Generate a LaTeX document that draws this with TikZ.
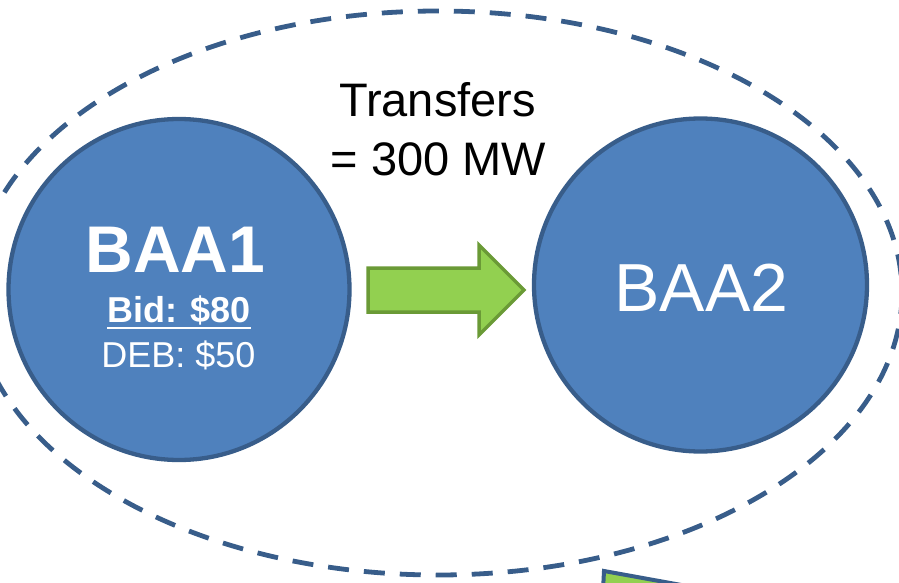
\documentclass[tikz,border=0pt]{standalone}
\usepackage{fontspec}
\setmainfont{Liberation Sans}
\definecolor{baafill}{HTML}{4F81BD}
\definecolor{baaline}{HTML}{385D8A}
\definecolor{arrfill}{HTML}{92D050}
\definecolor{arrline}{HTML}{6A9A36}
\tikzset{
  baa/.style={circle, fill=baafill, draw=baaline, line width=4.3pt, inner sep=0pt},
  area/.style={draw=baaline, line width=4.8pt, dash pattern=on 21pt off 15pt},
  lbl/.style={inner sep=0pt, anchor=base},
  flow/.style={fill=arrfill, draw=arrline, line width=3.5pt, line join=miter},
}
\begin{document}
\begin{tikzpicture}[x=1pt,y=-1pt]
\useasboundingbox (0,0) rectangle (899,583);
\clip (0,0) rectangle (899,583);
% enclosing dashed area
\draw[area] (438,293) ellipse [x radius=464, y radius=282];
% BAA circles
\node[baa, minimum size=341pt] (baa1) at (179,289.5) {};
\node[baa, minimum size=333pt] (baa2) at (700.5,285) {};
% labels
\node[lbl, font=\fontsize{66}{70}\selectfont\bfseries, text=white] (t1) at (175.5,272) {BAA1};
\node[lbl, font=\fontsize{36}{40}\selectfont\bfseries, text=white] (bid) at (179,322) {Bid: \$80};
\draw[white, line width=2.5pt] ([yshift=-6pt]bid.base west) -- ([yshift=-6pt]bid.base east);
\node[lbl, font=\fontsize{36}{40}\selectfont, text=white] (deb) at (178.5,367) {DEB: \$50};
\node[lbl, font=\fontsize{68}{72}\selectfont, text=white] (t2) at (701.5,311) {BAA2};
\node[lbl, font=\fontsize{47}{50}\selectfont] (tr1) at (437.5,117) {Transfers};
\node[lbl, font=\fontsize{47}{50}\selectfont] (tr2) at (438.5,175) {= 300 MW};
% transfer arrow
\coordinate (ac) at (446,290);
\draw[flow] ([shift={(-78,-22)}]ac) -- ([shift={(33,-22)}]ac) -- ([shift={(33,-45)}]ac)
  -- ([shift={(78,0)}]ac) -- ([shift={(33,45)}]ac) -- ([shift={(33,22)}]ac)
  -- ([shift={(-78,22)}]ac) -- cycle;
% partially visible shape at bottom
\draw[fill=arrfill, draw=baaline, line width=4pt, line join=miter]
  (604,571) -- (720,592) -- (720,610) -- (602,610) -- cycle;
\end{tikzpicture}
\end{document}
